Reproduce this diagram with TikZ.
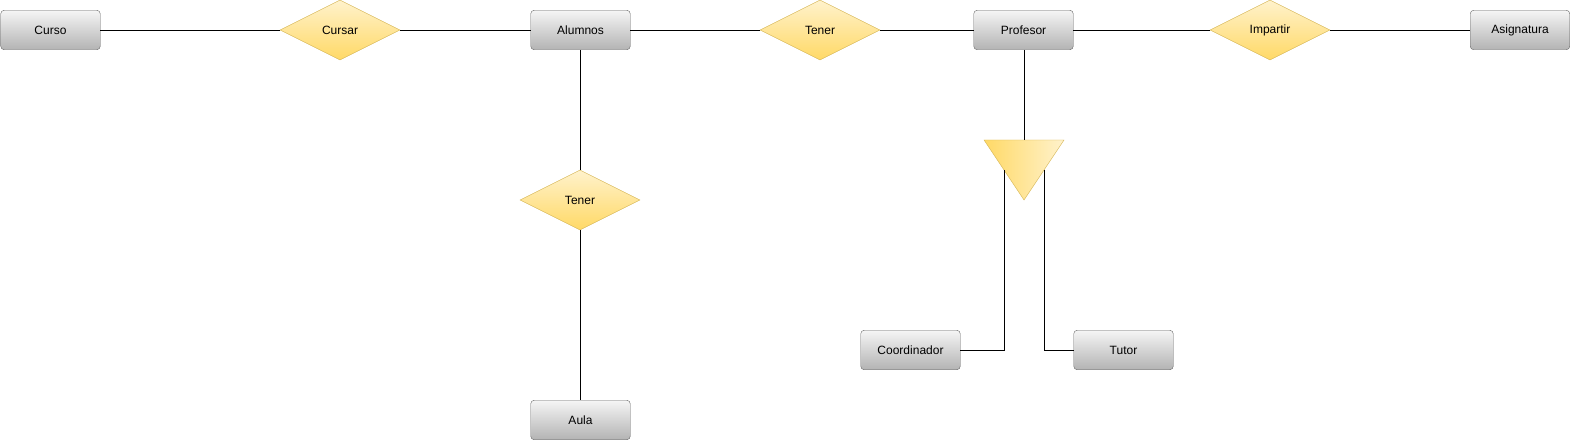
\documentclass[tikz,border=0pt]{standalone}
\usepackage{fontspec}
\setmainfont{Liberation Sans}
\usetikzlibrary{shapes.geometric}
\definecolor{boxtop}{HTML}{F5F5F5}
\definecolor{boxbot}{HTML}{B3B3B3}
\definecolor{boxline}{HTML}{666666}
\definecolor{reltop}{HTML}{FFF2CC}
\definecolor{relbot}{HTML}{FFD966}
\definecolor{relline}{HTML}{D6B656}
\tikzset{
  entity/.style={draw=boxline, rounded corners=3.5bp, top color=boxtop, bottom color=boxbot,
    minimum width=99.5bp, minimum height=39.5bp, inner sep=0pt, font=\fontsize{12bp}{14bp}\selectfont},
  relation/.style={diamond, draw=relline, top color=reltop, bottom color=relbot, aspect=2,
    minimum width=120bp, minimum height=60bp, inner sep=0pt, font=\fontsize{12bp}{14bp}\selectfont},
  link/.style={draw=black, line width=0.8bp}
}
\begin{document}
\begin{tikzpicture}[x=1bp,y=-1bp]
\useasboundingbox (0,0) rectangle (1571,441);
\node[entity] (curso) at (50.5,30) {Curso};
\node[relation] (cursar) at (340,30) {Cursar};
\node[entity] (alumnos) at (580.5,30) {Alumnos};
\node[relation] (tener1) at (820,30) {Tener};
\node[entity] (profesor) at (1023.5,30) {Profesor};
\node[relation] (impartir) at (1270,30) {Impartir};
\node[entity] (asignatura) at (1520,30) {Asignatura};
\node[relation] (tener2) at (580,200) {Tener};
\node[entity] (aula) at (580.5,420) {Aula};
\node[entity] (coord) at (910.5,350) {Coordinador};
\node[entity] (tutor) at (1123.5,350) {Tutor};
% ISA triangle
\coordinate (tritop) at (1024,140);
\coordinate (trileft) at (984,140);
\coordinate (triright) at (1064,140);
\coordinate (triapex) at (1024,200);
\coordinate (trileftlink) at (1004,170);
\coordinate (trirightlink) at (1044,170);
\path[draw=relline, left color=relbot, right color=reltop] (trileft) -- (triright) -- (triapex) -- cycle;
% connectors
\draw[link] (curso.east) -- (cursar.west);
\draw[link] (cursar.east) -- (alumnos.west);
\draw[link] (alumnos.east) -- (tener1.west);
\draw[link] (tener1.east) -- (profesor.west);
\draw[link] (profesor.east) -- (impartir.west);
\draw[link] (impartir.east) -- (asignatura.west);
\draw[link] (alumnos.south -| tener2.north) -- (tener2.north);
\draw[link] (tener2.south) -- (aula.north -| tener2.south);
\draw[link] (profesor.south -| tritop) -- (tritop);
\draw[link] (trileftlink) |- (coord.east);
\draw[link] (trirightlink) |- (tutor.west);
\end{tikzpicture}
\end{document}
